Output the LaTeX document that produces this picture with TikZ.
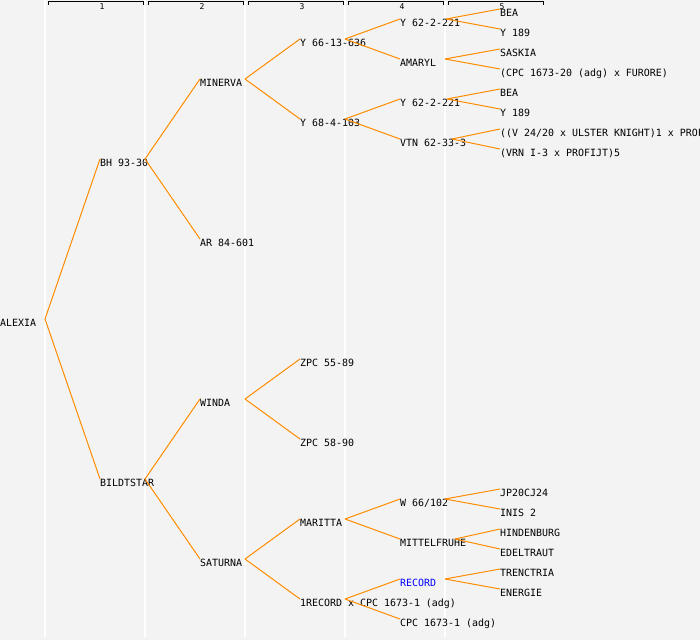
\documentclass[tikz,border=0pt]{standalone}
\usepackage{fontspec}
\setmonofont{DejaVu Sans Mono}
\definecolor{bgc}{HTML}{F3F3F3}
\definecolor{lnc}{HTML}{FF8C00}
\definecolor{recc}{HTML}{0000FF}
\begin{document}
\begin{tikzpicture}[x=1pt,y=-1pt,
  lbl/.style={anchor=base west,inner sep=0pt,font=\fontsize{9.95}{12}\ttfamily},
  hdr/.style={anchor=center,inner sep=0pt,font=\fontsize{8}{9}\ttfamily},
  edge/.style={draw=lnc,line width=1pt},
  sep/.style={draw=white,line width=1.5pt},
  brk/.style={draw=black,line width=1pt}]
\useasboundingbox (0,0) rectangle (700,640);
\fill[bgc] (0,0) rectangle (700,640);
% column separators
\foreach \x in {45,145,245,345,445} \draw[sep] (\x,0) -- (\x,637);
% header brackets
\foreach \i/\a in {1/48,2/148,3/248,4/348,5/448}{
  \draw[brk] (\a,5) -- (\a,1.5) -- (\a+95,1.5) -- (\a+95,5);
  \node[hdr] (h\i) at (\a+54,6.8) {\i};
}
% nodes
\node[lbl] (alexia) at (0,326) {ALEXIA};
\node[lbl] (bh) at (100,166) {BH 93-30};
\node[lbl] (bild) at (100,486) {BILDTSTAR};
\node[lbl] (minerva) at (200,86) {MINERVA};
\node[lbl] (ar) at (200,246) {AR 84-601};
\node[lbl] (winda) at (200,406) {WINDA};
\node[lbl] (saturna) at (200,566) {SATURNA};
\node[lbl] (y66) at (300,46) {Y 66-13-636};
\node[lbl] (y68) at (300,126) {Y 68-4-103};
\node[lbl] (zpca) at (300,366) {ZPC 55-89};
\node[lbl] (zpcb) at (300,446) {ZPC 58-90};
\node[lbl] (maritta) at (300,526) {MARITTA};
\node[lbl] (recx) at (300,606) {1RECORD x CPC 1673-1 (adg)};
\node[lbl] (y62a) at (400,26) {Y 62-2-221};
\node[lbl] (amaryl) at (400,66) {AMARYL};
\node[lbl] (y62b) at (400,106) {Y 62-2-221};
\node[lbl] (vtn) at (400,146) {VTN 62-33-3};
\node[lbl] (w66) at (400,506) {W 66/102};
\node[lbl] (mittel) at (400,546) {MITTELFRUHE};
\node[lbl,text=recc] (record) at (400,586) {RECORD};
\node[lbl] (cpc) at (400,626) {CPC 1673-1 (adg)};
\node[lbl] (beaa) at (500,16) {BEA};
\node[lbl] (ya) at (500,36) {Y 189};
\node[lbl] (saskia) at (500,56) {SASKIA};
\node[lbl] (cpcf) at (500,76) {(CPC 1673-20 (adg) x FURORE)};
\node[lbl] (beab) at (500,96) {BEA};
\node[lbl] (yb) at (500,116) {Y 189};
\node[lbl] (vul) at (500,136) {((V 24/20 x ULSTER KNIGHT)1 x PROF};
\node[lbl] (vrn) at (500,156) {(VRN I-3 x PROFIJT)5};
\node[lbl] (jp) at (500,496) {JP20CJ24};
\node[lbl] (inis) at (500,516) {INIS 2};
\node[lbl] (hind) at (500,536) {HINDENBURG};
\node[lbl] (edel) at (500,556) {EDELTRAUT};
\node[lbl] (tren) at (500,576) {TRENCTRIA};
\node[lbl] (ener) at (500,596) {ENERGIE};
% fork points
\coordinate (f-alexia) at (45,319);
\coordinate (f-bh) at (145,159);
\coordinate (f-bild) at (145,479);
\coordinate (f-minerva) at (245,79);
\coordinate (f-winda) at (245,399);
\coordinate (f-saturna) at (245,559);
\coordinate (f-y66) at (345,39);
\coordinate (f-y68) at (345,119);
\coordinate (f-maritta) at (345,519);
\coordinate (f-recx) at (345,599);
\coordinate (f-y62a) at (446,19);
\coordinate (f-amaryl) at (445,59);
\coordinate (f-y62b) at (447,99);
\coordinate (f-vtn) at (452,139);
\coordinate (f-w66) at (445,499);
\coordinate (f-mittel) at (455,539);
\coordinate (f-record) at (445,579);
% connectors
\foreach \p/\c in {alexia/bh,alexia/bild,bh/minerva,bh/ar,bild/winda,bild/saturna,
  minerva/y66,minerva/y68,winda/zpca,winda/zpcb,saturna/maritta,saturna/recx,
  y66/y62a,y66/amaryl,y68/y62b,y68/vtn,maritta/w66,maritta/mittel,recx/record,recx/cpc,
  y62a/beaa,y62a/ya,amaryl/saskia,amaryl/cpcf,y62b/beab,y62b/yb,vtn/vul,vtn/vrn,
  w66/jp,w66/inis,mittel/hind,mittel/edel,record/tren,record/ener}
  \draw[edge] (f-\p) -- ([yshift=7pt]\c.base west);
\end{tikzpicture}
\end{document}
